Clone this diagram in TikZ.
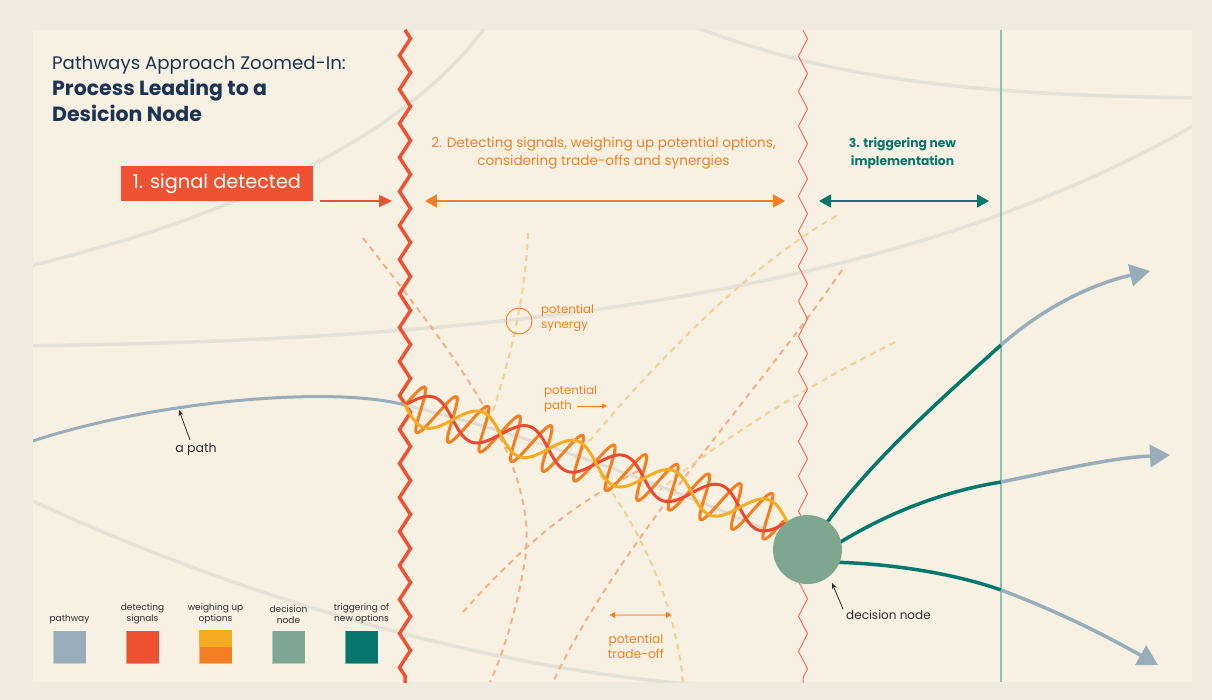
\documentclass[tikz,border=0pt]{standalone}
\usepackage{fontspec}
\setmainfont{Poppins}
\usetikzlibrary{arrows.meta,decorations.pathmorphing}
\definecolor{outerbg}{HTML}{EFEBDE}
\definecolor{innerbg}{HTML}{F7F1E3}
\definecolor{bgcurve}{HTML}{E4E1D7}
\definecolor{navy}{HTML}{1C3452}
\definecolor{sigred}{HTML}{EE5233}
\definecolor{helixred}{HTML}{EA4A33}
\definecolor{optorange}{HTML}{F47F22}
\definecolor{optyellow}{HTML}{F5AC22}
\definecolor{dashorange}{HTML}{F3B183}
\definecolor{dashyellow}{HTML}{F6D08E}
\definecolor{pathgrey}{HTML}{99ACBA}
\definecolor{faintpath}{HTML}{DDDDD6}
\definecolor{nodegreen}{HTML}{7FA78F}
\definecolor{trigteal}{HTML}{05776C}
\definecolor{lineteal}{HTML}{8FC0AF}
\definecolor{thinred}{HTML}{F2705A}
\definecolor{tradeline}{HTML}{F8BE97}
\definecolor{darktext}{HTML}{2B2B2B}
\tikzset{
  bgline/.style={bgcurve, line width=3.5pt},
  potdash/.style={line width=2pt, dash pattern=on 6pt off 5pt},
  tealline/.style={trigteal, line width=3.5pt},
  greyline/.style={pathgrey, line width=3.5pt},
  bigtip/.style={-{Triangle[length=20pt,width=22pt]}},
  annot/.style={font=\fontsize{11.8}{15}\selectfont, text=optorange, inner sep=0pt, align=left},
  darkannot/.style={font=\fontsize{12}{14}\selectfont, text=darktext, inner sep=0pt},
  legendlabel/.style={font=\fontsize{9}{11}\selectfont, text=darktext, align=center, inner sep=0pt, anchor=south},
  legendsq/.style={minimum size=33pt, inner sep=0pt, draw=white, draw opacity=0.4, line width=0.8pt},
  helix/.style={line width=3pt, line cap=round, line join=round},
}
\begin{document}
\begin{tikzpicture}[x=1pt,y=-1pt]
\fill[outerbg] (0,0) rectangle (1212,700);
\useasboundingbox (0,0) rectangle (1212,700);
\fill[innerbg] (33,30) rectangle (1192,682);

\begin{scope}
\clip (33,30) rectangle (1192,682);
% background curves
\draw[bgline] (20,268) .. controls (250,215) and (420,125) .. (490,20);
\draw[bgline] (690,25) .. controls (820,75) and (950,95) .. (1200,98);
\draw[bgline] (20,346) .. controls (500,340) and (900,296) .. (1200,122);
\draw[bgline] (20,495) .. controls (200,580) and (450,665) .. (700,685);

% potential paths (dashed)
\draw[potdash, dashorange] (363,238) .. controls (450,350) and (540,460) .. (525,560) .. controls (515,620) and (500,660) .. (490,682);
\draw[potdash, dashyellow] (528,233) .. controls (525,300) and (510,360) .. (490,420);
\draw[potdash, dashyellow] (575,458) .. controls (640,380) and (740,270) .. (838,215);
\draw[potdash, dashyellow] (600,475) .. controls (640,530) and (675,600) .. (683,682);
\draw[potdash, dashorange] (842,270) .. controls (760,390) and (620,540) .. (553,682);
\draw[potdash, dashyellow] (895,342) .. controls (800,390) and (720,440) .. (660,490);
\draw[potdash, dashorange] (463,612) .. controls (510,560) and (560,510) .. (640,470);

% vertical markers
\draw[lineteal, line width=1.5pt] (1001,30) -- (1001,682);
\draw[sigred, line width=3.5pt, decorate, decoration={zigzag, segment length=34pt, amplitude=5.5pt}] (405,30) -- (405,690);
\draw[thinred, line width=1pt, decorate, decoration={zigzag, segment length=35pt, amplitude=4.5pt}] (803,30) -- (803,690);

% the pathway
\draw[greyline, line width=3pt] (33,441) .. controls (150,402) and (330,385) .. (405,405);
\draw[faintpath, line width=3pt] (405,405) .. controls (550,440) and (700,500) .. (790,540);

% helix
\draw[optorange, helix] plot[domain=90:4410, samples=433] ({405+0.956*(0.09167*(\x-90)-5.25*cos(\x)) - 0.293*23*cos(\x)}, {405+0.293*(0.09167*(\x-90)-5.25*cos(\x)) + 0.956*23*cos(\x)});
\draw[helixred, helix] plot[domain=0:400, samples=161, smooth] ({405+0.956*\x+0.293*16*sin(3.6*\x)}, {405+0.293*\x-0.956*16*sin(3.6*\x)});
\draw[optyellow, helix] plot[domain=0:400, samples=161, smooth] ({405+0.956*\x-0.293*16*sin(3.6*\x)}, {405+0.293*\x+0.956*16*sin(3.6*\x)});

% triggered pathways
\draw[tealline] (815,540) .. controls (860,470) and (940,400) .. (1001,345) coordinate (j1);
\draw[greyline, bigtip] (j1) .. controls (1050,302) and (1100,282) .. (1150,271) coordinate (e1);
\draw[tealline] (820,555) .. controls (880,515) and (940,492) .. (1001,482) coordinate (j2);
\draw[greyline, bigtip] (j2) .. controls (1060,470) and (1110,458) .. (1170,455) coordinate (e2);
\draw[tealline] (820,562) .. controls (880,562) and (950,572) .. (1001,590) coordinate (j3);
\draw[greyline, bigtip] (j3) .. controls (1060,612) and (1110,638) .. (1158,665) coordinate (e3);
\end{scope}

% decision node
\node[circle, fill=nodegreen, minimum size=69pt, inner sep=0pt] (dn) at (807.5,549.5) {};

% title
\node[anchor=base west, inner sep=0pt, text=navy, font=\fontsize{18.2}{20}\selectfont] (t1) at (52,70) {Pathways Approach Zoomed-In:};
\node[anchor=base west, inner sep=0pt, text=navy, font=\fontsize{20.5}{22}\selectfont\bfseries] (t2) at (52,96) {Process Leading to a};
\node[anchor=base west, inner sep=0pt, text=navy, font=\fontsize{20.5}{22}\selectfont\bfseries] (t3) at (52,122) {Desicion Node};

% step 1
\node[fill=sigred, text=white, minimum width=192pt, minimum height=35pt, inner sep=0pt, font=\fontsize{19.3}{22}\selectfont] (s1) at (217,184) {1. signal detected};
\coordinate (s1a) at (320,201);
\coordinate (s1b) at (392,201);
\draw[sigred, line width=1.5pt, -{Triangle[length=13pt,width=12pt]}] (s1a) -- (s1b);

% step 2
\node[text=optorange, align=center, inner sep=0pt, font=\fontsize{13.6}{17.5}\selectfont] (s2) at (603.5,153) {2. Detecting signals, weighing up potential options,\\considering trade-offs and synergies};
\coordinate (s2a) at (425,201);
\coordinate (s2b) at (785,201);
\draw[optorange, line width=1.8pt, {Triangle[length=12pt,width=13pt]}-{Triangle[length=12pt,width=13pt]}] (s2a) -- (s2b);

% step 3
\node[text=trigteal, align=center, inner sep=0pt, font=\fontsize{12.3}{17.5}\selectfont\bfseries] (s3) at (902.5,153) {3. triggering new\\implementation};
\coordinate (s3a) at (819,201);
\coordinate (s3b) at (989,201);
\draw[trigteal, line width=1.8pt, {Triangle[length=12pt,width=13pt]}-{Triangle[length=12pt,width=13pt]}] (s3a) -- (s3b);

% annotations
\node[circle, draw=optorange, line width=0.9pt, minimum size=26pt, inner sep=0pt] (syn) at (519,321) {};
\node[annot, anchor=west] (synl) at (541,318.5) {potential\\synergy};
\node[annot, anchor=base west] (pp1) at (544,394) {potential};
\node[annot, anchor=base west] (pp2) at (544,409) {path};
\coordinate (pparrow) at (607,406);
\draw[optorange, line width=0.9pt, -{Triangle[length=5pt,width=5pt]}] ([xshift=5pt,yshift=3pt]pp2.base east) -- (pparrow);

\coordinate (toa) at (610,615);
\coordinate (tob) at (671,615);
\draw[tradeline, line width=1.5pt] (toa) -- (tob);
\draw[optorange, line width=0.01pt, {Triangle[length=5pt,width=6pt]}-{Triangle[length=5pt,width=6pt]}] (toa) -- (tob);
\node[annot, align=center, font=\fontsize{12.3}{15}\selectfont] (tol) at (636,646.5) {potential\\trade-off};

\node[darkannot, font=\fontsize{12.5}{14}\selectfont] (apl) at (196,449) {a path};
\coordinate (apt) at (179,410);
\draw[darktext, line width=0.8pt, -{Stealth[length=6pt,width=5pt]}] (190,440) -- (apt);

\node[darkannot, anchor=west] (dnl) at (846,615) {decision node};
\coordinate (dnt) at (832,583);
\draw[darktext, line width=0.8pt, -{Stealth[length=6pt,width=5pt]}] (843,609) -- (dnt);

% legend
\node[legendsq, fill=pathgrey] (lg1) at (69.5,647) {};
\node[legendsq, fill=sigred] (lg2) at (142.5,647) {};
\node[legendsq, fill=optorange] (lg3) at (215.5,647) {};
\fill[optyellow] (lg3.north west) rectangle (lg3.east);
\node[legendsq, fill=nodegreen] (lg4) at (288.5,647) {};
\node[legendsq, fill=trigteal] (lg5) at (361.5,647) {};
\node[legendlabel] (ll1) at (69.5,624) {pathway};
\node[legendlabel] (ll2) at (142.5,624) {detecting\\signals};
\node[legendlabel] (ll3) at (215.5,624) {weighing up\\options};
\node[legendlabel] (ll4) at (288.5,624) {decision\\node};
\node[legendlabel] (ll5) at (361.5,624) {triggering of\\new options};
\end{tikzpicture}
\end{document}
